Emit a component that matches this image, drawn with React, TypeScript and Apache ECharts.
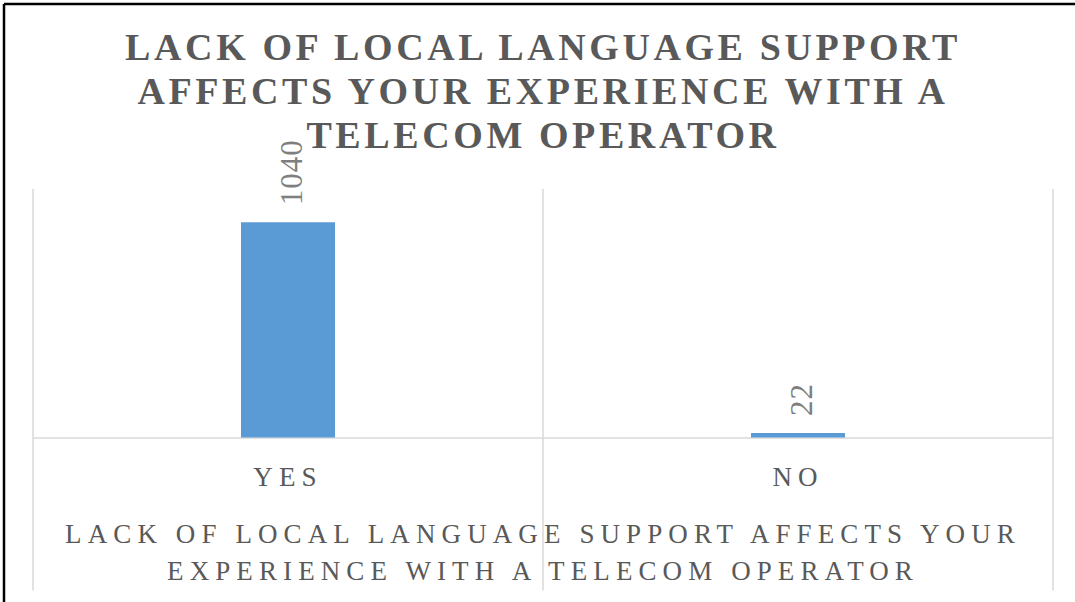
import React, { useEffect, useRef } from "react";
import * as echarts from "echarts";

const categories: string[] = ["YES", "NO"];
const values: number[] = [1040, 22];
const titleText = "LACK OF LOCAL LANGUAGE SUPPORT\nAFFECTS YOUR EXPERIENCE WITH A\nTELECOM OPERATOR";
const axisTitle = "LACK OF LOCAL LANGUAGE SUPPORT AFFECTS YOUR\nEXPERIENCE WITH A TELECOM OPERATOR";
const yMax = 1200;

const FONT = "Liberation Serif";
const GRAY = "#595959";
const LINE = "#d9d9d9";

export default function App() {
  const ref = useRef<HTMLDivElement>(null);
  useEffect(() => {
    if (!ref.current) return;
    const chart = echarts.init(ref.current, undefined, { renderer: "svg" });
    chart.setOption({
      animation: false,
      backgroundColor: "#ffffff",
      textStyle: { fontFamily: FONT },
      title: {
        text: titleText,
        left: 538,
        top: 20,
        textAlign: "center",
        textStyle: {
          fontFamily: FONT,
          fontSize: 38,
          fontWeight: "bold",
          color: GRAY,
          lineHeight: 44,
        },
      },
      grid: { left: 33, right: 22, top: 189, bottom: 164.5, containLabel: false },
      xAxis: {
        type: "category",
        data: categories,
        axisLine: { show: true, lineStyle: { color: LINE, width: 1.5 } },
        axisTick: { show: true, length: 153, lineStyle: { color: LINE, width: 1.5 } },
        splitLine: { show: true, lineStyle: { color: LINE, width: 1.5 } },
        axisLabel: {
          color: GRAY,
          fontFamily: FONT,
          fontSize: 27,
          lineHeight: 27,
          margin: 26,
        },
        name: axisTitle,
        nameLocation: "middle",
        nameGap: 78,
        nameTextStyle: {
          color: GRAY,
          fontFamily: FONT,
          fontSize: 27,
          lineHeight: 37,
        },
      },
      yAxis: {
        type: "value",
        min: 0,
        max: yMax,
        show: false,
        splitLine: { show: false },
      },
      series: [
        {
          type: "bar",
          data: values,
          barWidth: 94,
          itemStyle: { color: "#5b9bd5" },
          label: {
            show: true,
            position: "top",
            rotate: 90,
            distance: 17,
            offset: [0, 3],
            align: "left",
            verticalAlign: "middle",
            color: "#7f7f7f",
            fontFamily: FONT,
            fontSize: 31,
          },
        },
      ],
      graphic: [
        { type: "line", shape: { x1: 4, y1: 4, x2: 4, y2: 602 }, style: { stroke: "#000", lineWidth: 2.5 } },
        { type: "line", shape: { x1: 4, y1: 4, x2: 1075, y2: 4 }, style: { stroke: "#000", lineWidth: 2.5 } },
      ],
    });
    return () => chart.dispose();
  }, []);
  return (
    <>
      <style>{`
        .cwrap text[style*="38px"], .cwrap text[font-size*="38"] { letter-spacing: 3.6px; }
        .cwrap text[style*="27px"], .cwrap text[font-size*="27"] { letter-spacing: 6.1px; }
        .cwrap text[style*="31px"], .cwrap text[font-size*="31"] { letter-spacing: 1px; }
      `}</style>
      <div
        className="cwrap"
        ref={ref}
        style={{ position: "fixed", left: 0, top: 0, width: 1075, height: 602 }}
      />
    </>
  );
}
